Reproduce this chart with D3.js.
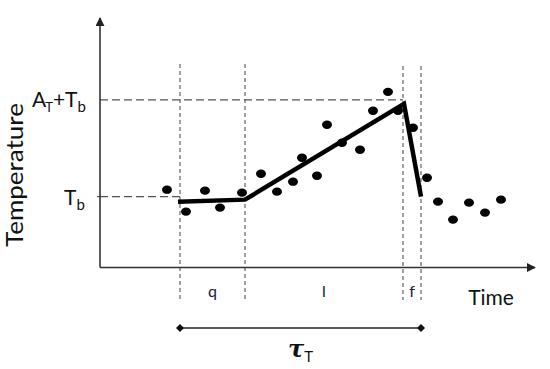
<!DOCTYPE html>
<html><head><meta charset="utf-8">
<script src="https://cdn.jsdelivr.net/npm/d3@7"></script>
<style>
html,body{margin:0;padding:0;background:#fff;}
text{font-family:"Lato","Open Sans",sans-serif;fill:#111;}
</style></head>
<body><svg id="c" width="550" height="369"></svg>
<script>
// ---- data (time units, temperature units) ----
const dotTime = [13.4,17.2,21,24,28.4,32.2,35.4,38.6,40.4,43.4,45.4,48.4,52,54.6,57.6,59.6,62.6,65.4,67.6,70.6,73.8,77,80.2];
const dotTemp = [19.5,14,19.25,15,18.75,23.5,19,21.5,27.5,23,35.75,31.25,29.5,39.25,44,39.25,35,22.5,16.5,12,16.25,13.75,17];
const fitTime = [15.6, 29, 60.8, 64.2];
const fitTemp = [16.5, 17, 41.0, 17.75];
const phaseBounds = [16, 29, 60.6, 64.2];
const phaseLabels = ["q", "l", "f"];
const levelTemp = [17.75, 42];   // T_b, A_T+T_b
const timeMax = 87, tempMax = 62.5;

const svg = d3.select("#c");
const x = d3.scaleLinear().domain([0, timeMax]).range([100, 535]);
const y = d3.scaleLinear().domain([0, tempMax]).range([267.5, 18]);

const defs = svg.append("defs");
defs.append("marker").attr("id","arr").attr("viewBox","0 0 10 10").attr("refX",9).attr("refY",5)
  .attr("markerWidth",9).attr("markerHeight",9).attr("markerUnits","userSpaceOnUse").attr("orient","auto")
  .append("path").attr("d","M0,0L10,5L0,10Z").attr("fill","#222");
defs.append("marker").attr("id","dia").attr("viewBox","0 0 10 10").attr("refX",5).attr("refY",5)
  .attr("markerWidth",8).attr("markerHeight",8).attr("markerUnits","userSpaceOnUse").attr("orient","auto")
  .append("path").attr("d","M0,5L5,0L10,5L5,10Z").attr("fill","#111");

// horizontal dashed level lines
svg.append("line").attr("x1",x(0)).attr("x2",x(phaseBounds[2])).attr("y1",y(levelTemp[1])).attr("y2",y(levelTemp[1]))
  .attr("stroke","#555").attr("stroke-width",1.3).attr("stroke-dasharray","8,4");
svg.append("line").attr("x1",x(0)).attr("x2",x(phaseBounds[0])).attr("y1",y(levelTemp[0])).attr("y2",y(levelTemp[0]))
  .attr("stroke","#555").attr("stroke-width",1.3).attr("stroke-dasharray","8,4");

// vertical dashed phase lines
svg.selectAll(".vl").data(phaseBounds).enter().append("line")
  .attr("x1",d=>x(d)).attr("x2",d=>x(d)).attr("y1",(d,i)=> i<2?64:66).attr("y2",300)
  .attr("stroke","#555").attr("stroke-width",1.1).attr("stroke-dasharray","4,3");

// axes
svg.append("line").attr("x1",x(0)).attr("y1",y(0)).attr("x2",x(0)).attr("y2",y(tempMax))
  .attr("stroke","#333").attr("stroke-width",1.6).attr("marker-end","url(#arr)");
svg.append("line").attr("x1",x(0)).attr("y1",y(0)).attr("x2",x(timeMax)).attr("y2",y(0))
  .attr("stroke","#333").attr("stroke-width",1.6).attr("marker-end","url(#arr)");
svg.append("line").attr("x1",x(0)-3).attr("x2",x(0)).attr("y1",y(levelTemp[0])).attr("y2",y(levelTemp[0])).attr("stroke","#333");

// dots
svg.selectAll(".dot").data(dotTime).enter().append("ellipse")
  .attr("cx",d=>x(d)).attr("cy",(d,i)=>y(dotTemp[i])).attr("rx",5).attr("ry",4.2).attr("fill","#000");

// fitted piecewise line
const line = d3.line().x(d=>x(d[0])).y(d=>y(d[1]));
svg.append("path").datum(fitTime.map((t,i)=>[t,fitTemp[i]])).attr("d",line)
  .attr("fill","none").attr("stroke","#000").attr("stroke-width",4.5).attr("stroke-linejoin","miter");

// phase labels
svg.selectAll(".pl").data(phaseLabels).enter().append("text")
  .attr("x",(d,i)=>(x(phaseBounds[i])+x(phaseBounds[i+1]))/2).attr("y",297)
  .attr("text-anchor","middle").attr("font-size",16).style("fill","#1a1a3a").text(d=>d);

// axis titles
svg.append("text").attr("x",491).attr("y",305).attr("text-anchor","middle").attr("font-size",21).text("Time");
svg.append("text").attr("transform","translate(23,175) rotate(-90)").attr("text-anchor","middle")
  .attr("font-size",23).attr("textLength",144).attr("lengthAdjust","spacingAndGlyphs").text("Temperature");

// level labels
const a = svg.append("text").attr("x",32).attr("y",y(levelTemp[1])+7).attr("font-size",21);
a.append("tspan").text("A");
a.append("tspan").attr("font-size",13).attr("dx",-1).attr("dy",5).text("T");
a.append("tspan").attr("dy",-5).text("+T");
a.append("tspan").attr("font-size",15).attr("dy",5).text("b");
const tb = svg.append("text").attr("x",64).attr("y",y(levelTemp[0])+8).attr("font-size",21);
tb.append("tspan").text("T");
tb.append("tspan").attr("font-size",15).attr("dy",5).text("b");

// tau bracket
svg.append("line").attr("x1",x(phaseBounds[0])).attr("x2",x(phaseBounds[3])).attr("y1",328).attr("y2",328)
  .attr("stroke","#222").attr("stroke-width",1.4).attr("marker-start","url(#dia)").attr("marker-end","url(#dia)");
const tau = svg.append("text").attr("x",288).attr("y",357).attr("font-size",24);
tau.append("tspan").attr("font-style","italic").attr("font-weight","bold").style("font-family","DejaVu Serif").text("τ");
tau.append("tspan").attr("font-size",15).attr("dy",5).text("T");
</script></body></html>
